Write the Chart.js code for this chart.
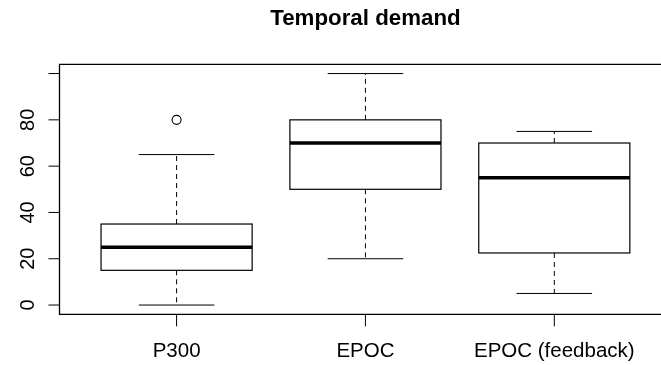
<!DOCTYPE html>
<html>
<head>
<meta charset="utf-8">
<script src="https://cdn.jsdelivr.net/npm/chart.js@4/dist/chart.umd.min.js"></script>
<style>
html,body{margin:0;padding:0;background:#fff;overflow:hidden;}
canvas{display:block;}
</style>
</head>
<body>
<canvas id="c" width="661" height="365"></canvas>
<script>
const chartTitle = "Temporal demand";
const categories = ["P300", "EPOC", "EPOC (feedback)"];
const whiskerLow = [0, 20, 5];
const q1 = [15, 50, 22.5];
const median = [25, 70, 55];
const q3 = [35, 80, 70];
const whiskerHigh = [65, 100, 75];
const outliers = [[80], [], []];
const yTicks = [0, 20, 40, 60, 80, 100];
const yTickLabels = ["0", "20", "40", "60", "80", ""];

const outlierPoints = [];
outliers.forEach((arr, i) => arr.forEach(v => outlierPoints.push({x: i + 1, y: v})));

const FONT = '"Liberation Sans", Arial, Helvetica, sans-serif';

const boxPlugin = {
  id: 'boxPlugin',
  beforeDatasetsDraw(chart) {
    const ctx = chart.ctx;
    const xs = chart.scales.x, ys = chart.scales.y;
    const half = 0.4, capHalf = 0.2;
    ctx.save();
    categories.forEach((c, i) => {
      const cx = xs.getPixelForValue(i + 1);
      const l = xs.getPixelForValue(i + 1 - half);
      const r = xs.getPixelForValue(i + 1 + half);
      const cl = xs.getPixelForValue(i + 1 - capHalf);
      const cr = xs.getPixelForValue(i + 1 + capHalf);
      const yLo = ys.getPixelForValue(whiskerLow[i]);
      const yQ1 = ys.getPixelForValue(q1[i]);
      const yMed = ys.getPixelForValue(median[i]);
      const yQ3 = ys.getPixelForValue(q3[i]);
      const yHi = ys.getPixelForValue(whiskerHigh[i]);
      ctx.strokeStyle = '#000';
      ctx.lineWidth = 1;
      ctx.setLineDash([5, 4]);
      ctx.beginPath();
      ctx.moveTo(cx, yQ1); ctx.lineTo(cx, yLo);
      ctx.moveTo(cx, yQ3); ctx.lineTo(cx, yHi);
      ctx.stroke();
      ctx.setLineDash([]);
      ctx.beginPath();
      ctx.moveTo(cl, yLo); ctx.lineTo(cr, yLo);
      ctx.moveTo(cl, yHi); ctx.lineTo(cr, yHi);
      ctx.stroke();
      ctx.lineWidth = 1.2;
      ctx.strokeRect(l, yQ3, r - l, yQ1 - yQ3);
      ctx.lineWidth = 3.5;
      ctx.beginPath();
      ctx.moveTo(l, yMed); ctx.lineTo(r, yMed);
      ctx.stroke();
    });
    ctx.restore();
  },
  afterDraw(chart) {
    const ctx = chart.ctx;
    const xs = chart.scales.x, ys = chart.scales.y;
    const a = chart.chartArea;
    ctx.save();
    ctx.strokeStyle = '#000';
    ctx.fillStyle = '#000';
    ctx.lineWidth = 1.3;
    ctx.beginPath();
    ctx.moveTo(a.right + 20, a.top); ctx.lineTo(a.left, a.top);
    ctx.lineTo(a.left, a.bottom); ctx.lineTo(a.right + 20, a.bottom);
    ctx.stroke();
    ctx.lineWidth = 1;
    ctx.font = '20px ' + FONT;
    ctx.textAlign = 'center';
    ctx.textBaseline = 'alphabetic';
    yTicks.forEach((v, k) => {
      const y = ys.getPixelForValue(v);
      ctx.beginPath();
      ctx.moveTo(a.left, y); ctx.lineTo(a.left - 11, y);
      ctx.stroke();
      if (yTickLabels[k]) {
        ctx.save();
        ctx.translate(a.left - 26, y);
        ctx.rotate(-Math.PI / 2);
        ctx.fillText(yTickLabels[k], 0, 0);
        ctx.restore();
      }
    });
    ctx.font = '20.5px ' + FONT;
    categories.forEach((c, i) => {
      const x = xs.getPixelForValue(i + 1);
      ctx.beginPath();
      ctx.moveTo(x, a.bottom); ctx.lineTo(x, a.bottom + 12);
      ctx.stroke();
      ctx.fillText(c, x, 356.5);
    });
    ctx.font = 'bold 22.3px ' + FONT;
    ctx.fillText(chartTitle, xs.getPixelForValue(2), 25);
    ctx.restore();
  }
};

new Chart(document.getElementById('c'), {
  type: 'scatter',
  data: {
    datasets: [{
      data: outlierPoints,
      pointStyle: 'circle',
      pointRadius: 4.5,
      pointBorderWidth: 1.1,
      borderColor: '#000',
      backgroundColor: 'rgba(0,0,0,0)',
      pointBackgroundColor: '#fff',
      pointBorderColor: '#000'
    }]
  },
  options: {
    responsive: false,
    devicePixelRatio: 1,
    animation: false,
    layout: { autoPadding: false, padding: { left: 59.5, top: 64.3, bottom: 50.7, right: 0 } },
    plugins: { legend: { display: false }, tooltip: { enabled: false }, title: { display: false } },
    scales: {
      x: { type: 'linear', min: 0.38, max: 3.565, display: false },
      y: { type: 'linear', min: -4, max: 104, display: false }
    }
  },
  plugins: [boxPlugin]
});
</script>
</body>
</html>
